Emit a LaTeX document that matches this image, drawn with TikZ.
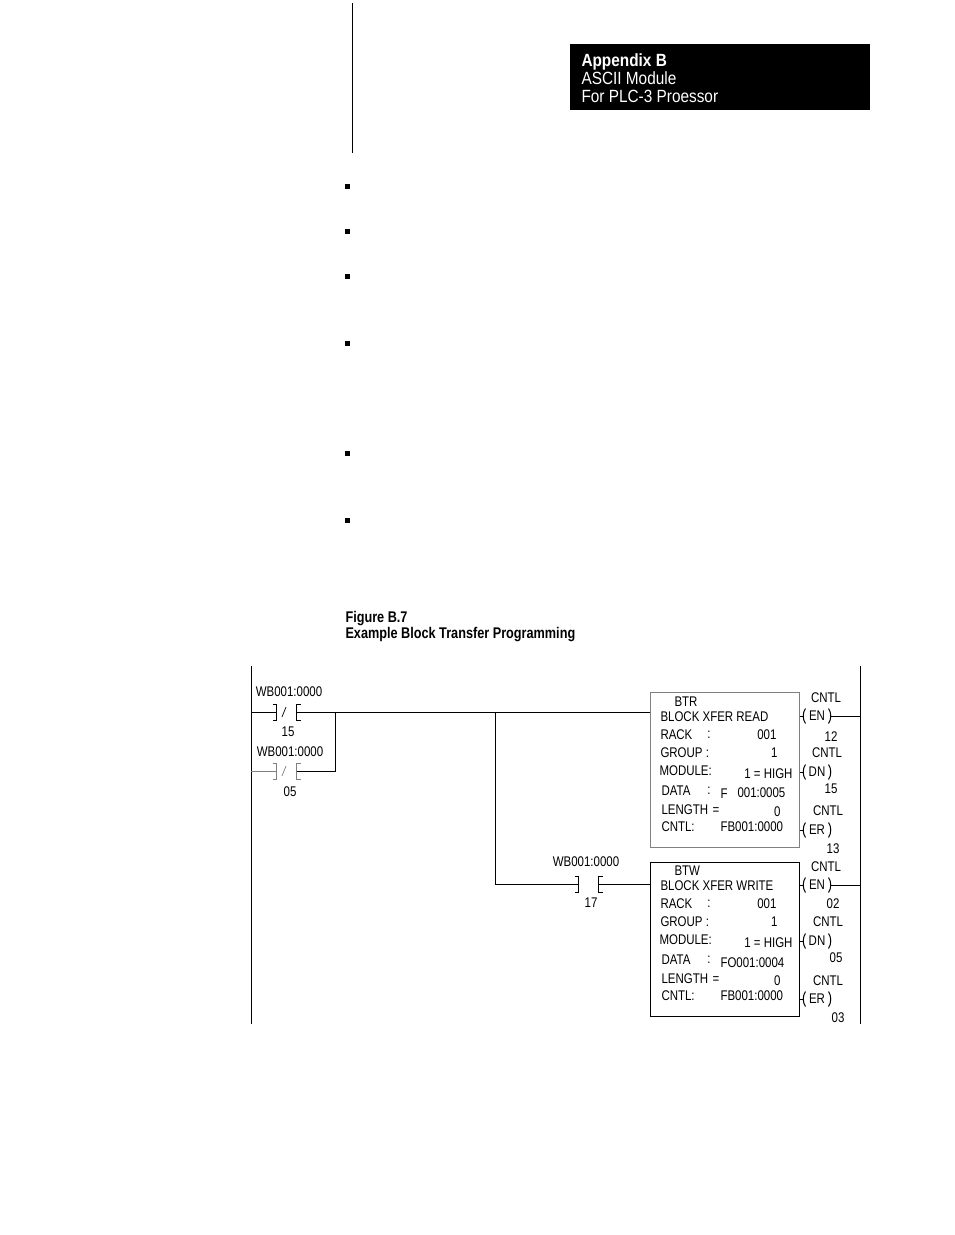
\documentclass[tikz,border=0pt]{standalone}
\usepackage{fontspec}
\setmainfont{Liberation Sans}[FakeStretch=0.82]
\newfontfamily\headfont{Liberation Sans}[FakeStretch=0.87]
\begin{document}
\begin{tikzpicture}[x=0.75pt, y=-0.75pt, line width=0.75pt,
    lbl/.style={inner sep=0pt, font=\fontsize{10.5}{12}\selectfont},
    head/.style={inner sep=0pt, anchor=base west, text=white, font=\headfont\fontsize{13.25}{15}\selectfont},
    figcap/.style={inner sep=0pt, anchor=base west, font=\fontsize{11.6}{13}\selectfont\bfseries},
    contact/.style={inner sep=0pt, minimum width=14.25pt, minimum height=11.25pt},
    coil/.style={inner sep=0pt, minimum width=16.5pt, minimum height=10.5pt, font=\fontsize{10.5}{12}\selectfont},
    blk/.style={draw, inner sep=0pt, minimum width=111.75pt}]
    \useasboundingbox (0,0) rectangle (954,1235);

    % 見出し
    \draw (352,3) -- (352,153);
    \fill (570,44) rectangle (870,110);
    \node[head, font=\headfont\fontsize{13.25}{15}\selectfont\bfseries] (hd1) at (581,66) {Appendix B};
    \node[head] (hd2) at (581,84) {ASCII Module};
    \node[head] (hd3) at (581,102) {For PLC-3 Proessor};

    % 箇条書きの点
    \fill (345,184) rectangle (350,189);
    \fill (345,229) rectangle (350,234);
    \fill (345,274) rectangle (350,279);
    \fill (345,341) rectangle (350,346);
    \fill (345,451) rectangle (350,456);
    \fill (345,518) rectangle (350,523);

    % 図の題
    \node[figcap] (fig) at (345,622) {Figure B.7};
    \node[figcap] (title) at (345,638) {Example Block Transfer Programming};

    % 母線
    \coordinate (lt) at (251,666);
    \coordinate (lb) at (251,1024);
    \coordinate (rt) at (860,666);
    \coordinate (rb) at (860,1024);
    \draw (lt) -- (lb);
    \draw (rt) -- (rb);

    % 接点
    \node[contact] (c15) at (286.5,712) {};
    \node[contact, gray] (c05) at (286.5,771) {};
    \node[contact] (c17) at (588.5,884) {};
    \draw (c15.north west) ++(-4,0) -| (c15.south west) -- ++(-4,0);
    \draw (c15.north east) ++(4,0) -| (c15.south east) -- ++(4,0);
    \draw[line width=0.5pt] (282,717) -- (286,707);
    \draw[gray] (c05.north west) ++(-4,0) -| (c05.south west) -- ++(-4,0);
    \draw[gray] (c05.north east) ++(4,0) -| (c05.south east) -- ++(4,0);
    \draw[gray, line width=0.5pt] (282,776) -- (286,766);
    \draw (c17.north west) ++(-4,0) -| (c17.south west) -- ++(-4,0);
    \draw (c17.north east) ++(4,0) -| (c17.south east) -- ++(4,0);

    \node[lbl] (t15) at (289,692) {WB001:0000};
    \node[lbl] (n15) at (288,732) {15};
    \node[lbl] (t05) at (290,752) {WB001:0000};
    \node[lbl] (n05) at (290,792) {05};
    \node[lbl] (t17) at (586,862) {WB001:0000};
    \node[lbl] (n17) at (591,903) {17};

    % 命令ブロック
    \node[blk, draw=gray, minimum height=116.25pt] (btr) at (724.5,769.5) {};
    \node[blk, minimum height=115.5pt] (btw) at (724.5,939) {};

    \node[lbl, anchor=west] (r1) at (674,702) {BTR};
    \node[lbl, anchor=west] (r2) at (660,717) {BLOCK XFER READ};
    \node[lbl, anchor=west] (r3) at (660,735) {RACK};
    \node[lbl] (r3c) at (709,735) {:};
    \node[lbl, anchor=east] (r3v) at (777,735) {001};
    \node[lbl, anchor=west] (r4) at (660,753) {GROUP :};
    \node[lbl, anchor=east] (r4v) at (778,753) {1};
    \node[lbl, anchor=west] (r5) at (659,771) {MODULE:};
    \node[lbl, anchor=east] (r5v) at (793,774) {1 = HIGH};
    \node[lbl, anchor=west] (r6) at (661,791) {DATA};
    \node[lbl] (r6c) at (709,791) {:};
    \node[lbl, anchor=west] (r6f) at (720,794) {F};
    \node[lbl, anchor=west] (r6v) at (737,793) {001:0005};
    \node[lbl, anchor=west] (r7) at (661,810) {LENGTH};
    \node[lbl] (r7e) at (716,811) {=};
    \node[lbl, anchor=east] (r7v) at (781,812) {0};
    \node[lbl, anchor=west] (r8) at (661,827) {CNTL:};
    \node[lbl, anchor=west] (r8v) at (720,827) {FB001:0000};

    \node[lbl, anchor=west] (w1) at (674,871) {BTW};
    \node[lbl, anchor=west] (w2) at (660,886) {BLOCK XFER WRITE};
    \node[lbl, anchor=west] (w3) at (660,904) {RACK};
    \node[lbl] (w3c) at (709,904) {:};
    \node[lbl, anchor=east] (w3v) at (777,904) {001};
    \node[lbl, anchor=west] (w4) at (660,922) {GROUP :};
    \node[lbl, anchor=east] (w4v) at (778,922) {1};
    \node[lbl, anchor=west] (w5) at (659,940) {MODULE:};
    \node[lbl, anchor=east] (w5v) at (793,943) {1 = HIGH};
    \node[lbl, anchor=west] (w6) at (661,960) {DATA};
    \node[lbl] (w6c) at (709,960) {:};
    \node[lbl, anchor=west] (w6v) at (720,963) {FO001:0004};
    \node[lbl, anchor=west] (w7) at (661,979) {LENGTH};
    \node[lbl] (w7e) at (716,980) {=};
    \node[lbl, anchor=east] (w7v) at (781,981) {0};
    \node[lbl, anchor=west] (w8) at (661,996) {CNTL:};
    \node[lbl, anchor=west] (w8v) at (720,996) {FB001:0000};

    % コイル
    \node[coil] (en1) at (817,716) {EN};
    \node[coil] (dn1) at (817,772) {DN};
    \node[coil] (er1) at (817,830) {ER};
    \node[coil] (en2) at (817,885) {EN};
    \node[coil] (dn2) at (817,941) {DN};
    \node[coil] (er2) at (817,999) {ER};
    \foreach \c in {en1,dn1,er1,en2,dn2,er2}{
        \draw (\c.north west) .. controls +(-3,4) and +(-3,-4) .. (\c.south west);
        \draw (\c.north east) .. controls +(3,4) and +(3,-4) .. (\c.south east);
    }

    \node[lbl] (k1) at (826,698) {CNTL};
    \node[lbl] (m1) at (831,737) {12};
    \node[lbl] (k2) at (827,753) {CNTL};
    \node[lbl] (m2) at (831,789) {15};
    \node[lbl] (k3) at (828,811) {CNTL};
    \node[lbl] (m3) at (833,849) {13};
    \node[lbl] (k4) at (826,867) {CNTL};
    \node[lbl] (m4) at (833,904) {02};
    \node[lbl] (k5) at (828,922) {CNTL};
    \node[lbl] (m5) at (836,958) {05};
    \node[lbl] (k6) at (828,981) {CNTL};
    \node[lbl] (m6) at (838,1018) {03};

    % 配線
    \coordinate (br1) at (335,712);
    \coordinate (br2) at (495,712);
    \draw (c15.west -| lt) -- (c15.west);
    \draw (c15.east) -- (c15.east -| btr.west);
    \draw[gray] (c05.west -| lt) -- (c05.west);
    \draw (c05.east) -| (br1);
    \draw (br2) |- (c17.west);
    \draw (c17.east) -- (c17.east -| btw.west);

    \draw ([shift={(-2,0)}]en1.west) -- (en1.west -| btr.east);
    \draw ([shift={(-2,0)}]dn1.west) -- (dn1.west -| btr.east);
    \draw ([shift={(-2,0)}]er1.west) -- (er1.west -| btr.east);
    \draw ([shift={(-2,0)}]en2.west) -- (en2.west -| btw.east);
    \draw ([shift={(-2,0)}]dn2.west) -- (dn2.west -| btw.east);
    \draw ([shift={(-2,0)}]er2.west) -- (er2.west -| btw.east);
    \draw ([shift={(2,0)}]en1.east) -- (en1.east -| rt);
    \draw ([shift={(2,0)}]en2.east) -- (en2.east -| rt);

  \end{tikzpicture}
\end{document}
